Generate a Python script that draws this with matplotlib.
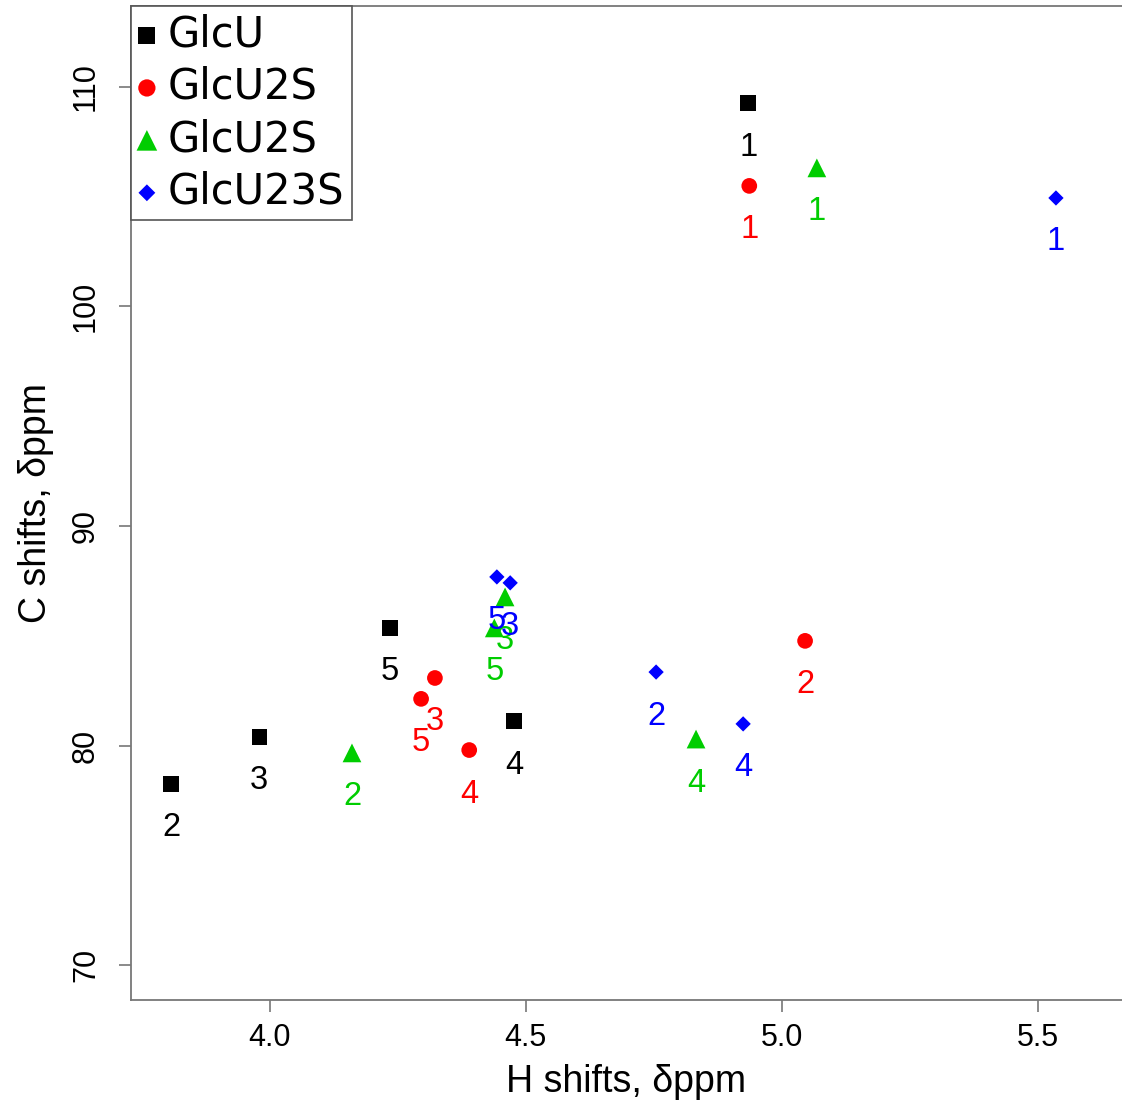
import matplotlib
matplotlib.use("Agg")
import matplotlib.pyplot as plt

# H / C shifts for each sugar, position labels 1..5
glcu_h = [4.935, 3.808, 3.980, 4.478, 4.235]
glcu_c = [109.25, 78.26, 80.40, 81.12, 85.36]
glcu_lab = ["1", "2", "3", "4", "5"]

glcu2s_h = [4.937, 5.046, 4.323, 4.390, 4.296]
glcu2s_c = [105.48, 84.77, 83.08, 79.80, 82.13]
glcu2s_lab = ["1", "2", "3", "4", "5"]

glcu2s_b_h = [5.069, 4.161, 4.460, 4.833, 4.439]
glcu2s_b_c = [106.30, 79.67, 86.77, 80.30, 85.36]
glcu2s_b_lab = ["1", "2", "3", "4", "5"]

glcu23s_h = [5.536, 4.755, 4.470, 4.925, 4.444]
glcu23s_c = [104.93, 83.35, 87.41, 80.99, 87.68]
glcu23s_lab = ["1", "2", "3", "4", "5"]

series = [
    ("GlcU", glcu_h, glcu_c, glcu_lab, "black", "s", 11.2),
    ("GlcU2S", glcu2s_h, glcu2s_c, glcu2s_lab, "#ff0000", "o", 11.3),
    ("GlcU2S", glcu2s_b_h, glcu2s_b_c, glcu2s_b_lab, "#00cd00", "^", 13.5),
    ("GlcU23S", glcu23s_h, glcu23s_c, glcu23s_lab, "#0000ff", "D", 7.8),
]

fam = ["Liberation Sans", "DejaVu Sans"]

fig = plt.figure(figsize=(11.22, 11.06), dpi=100)
ax = fig.add_axes([0.1168, 0.0958, 0.8832, 0.8988])

handles = []
for name, h, c, lab, col, mk, ms in series:
    sc = ax.scatter(h, c, marker=mk, s=ms**2, color=col, edgecolors="none", label=name, zorder=3)
    handles.append(sc)
    for xi, yi, t in zip(h, c, lab):
        ax.annotate(t, (xi, yi), xytext=(0, -44), textcoords="offset pixels",
                    ha="center", va="center", color=col, fontsize=23.5,
                    family=fam, zorder=4)

ax.set_xlim(3.7295, 5.665)
ax.set_ylim(68.42, 113.67)
ax.set_xticks([4.0, 4.5, 5.0, 5.5])
ax.set_yticks([70, 80, 90, 100, 110])

for s in ["left", "bottom", "top"]:
    ax.spines[s].set_color("#777777")
    ax.spines[s].set_linewidth(1.3)
ax.spines["right"].set_visible(False)

ax.tick_params(direction="out", length=8.6, width=1.2, color="#777777", labelsize=22)
ax.tick_params(axis="x", pad=8)
ax.tick_params(axis="y", pad=13)
for t in ax.get_xticklabels():
    t.set_family(fam)
for t in ax.get_yticklabels():
    t.set_family(fam)
    t.set_rotation(90)
    t.set_va("center")

ax.set_xlabel("H shifts, δppm", fontsize=27, family=fam, labelpad=8)
ax.set_ylabel("C shifts, δppm", fontsize=27, family=fam, labelpad=12)

leg = ax.legend(handles=handles, loc="upper left", bbox_to_anchor=(0, 1),
                borderaxespad=0, fancybox=False, framealpha=1, edgecolor="#555555",
                prop={"family": "DejaVu Sans", "size": 30}, handlelength=0.4,
                handletextpad=0.3, labelspacing=0.25, borderpad=0.18, markerscale=1.1)
leg.get_frame().set_linewidth(1.2)

fig.savefig("out.png", dpi=100)
